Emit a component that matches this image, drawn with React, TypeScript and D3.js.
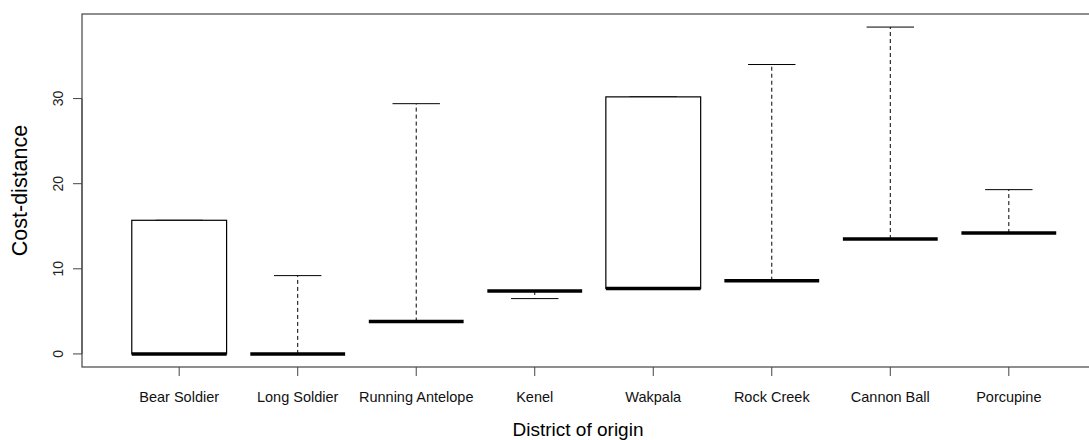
import { useEffect, useRef } from 'react';
import * as d3 from 'd3';

// boxplot stats, one entry per district
const districts = ['Bear Soldier', 'Long Soldier', 'Running Antelope', 'Kenel', 'Wakpala', 'Rock Creek', 'Cannon Ball', 'Porcupine'];
const lowWhisker = [0, 0, 3.8, 6.5, 7.7, 8.6, 13.5, 14.2];
const lowerHinge = [0, 0, 3.8, 7.4, 7.7, 8.6, 13.5, 14.2];
const medians = [0, 0, 3.8, 7.4, 7.7, 8.6, 13.5, 14.2];
const upperHinge = [15.7, 0, 3.8, 7.4, 30.2, 8.6, 13.5, 14.2];
const highWhisker = [15.7, 9.2, 29.4, 7.4, 30.2, 34.0, 38.4, 19.3];
const yTicks = [0, 10, 20, 30];

const App = () => {
  const svgRef = useRef<SVGSVGElement>(null);

  useEffect(() => {
    const width = 1089;
    const height = 440;
    const left = 82, top = 14, bottom = 367;

    const svg = d3.select(svgRef.current)
      .attr('width', width)
      .attr('height', height)
      .style('font-family', '"Liberation Sans", Arial, sans-serif');

    svg.selectAll('*').remove();

    const n = districts.length;
    // R style: pad the range by 4% on each side
    const xPad = 0.04 * n;
    const x = d3.scaleLinear()
      .domain([0.5 - xPad, n + 0.5 + xPad])
      .range([left, left + 1024]);

    const yMin = d3.min(lowWhisker) as number;
    const yMax = d3.max(highWhisker) as number;
    const yPad = 0.04 * (yMax - yMin);
    const y = d3.scaleLinear()
      .domain([yMin - yPad, yMax + yPad])
      .range([bottom, top]);

    const boxHalf = 0.4;
    const capHalf = 0.2;

    const stats = districts.map((name, i) => ({
      name,
      pos: i + 1,
      lo: lowWhisker[i],
      q1: lowerHinge[i],
      med: medians[i],
      q3: upperHinge[i],
      hi: highWhisker[i],
    }));

    const g = svg.append('g');

    // whiskers (dashed)
    g.selectAll('line.whisk-up')
      .data(stats.filter(d => d.hi > d.q3))
      .enter()
      .append('line')
      .attr('x1', d => x(d.pos)).attr('x2', d => x(d.pos))
      .attr('y1', d => y(d.q3)).attr('y2', d => y(d.hi))
      .attr('stroke', '#000').attr('stroke-dasharray', '4,3');

    g.selectAll('line.whisk-down')
      .data(stats.filter(d => d.lo < d.q1))
      .enter()
      .append('line')
      .attr('x1', d => x(d.pos)).attr('x2', d => x(d.pos))
      .attr('y1', d => y(d.q1)).attr('y2', d => y(d.lo))
      .attr('stroke', '#000').attr('stroke-dasharray', '4,3');

    // staples
    const caps = stats.flatMap(d => [{ pos: d.pos, v: d.hi }, { pos: d.pos, v: d.lo }]);
    g.selectAll('line.cap')
      .data(caps)
      .enter()
      .append('line')
      .attr('x1', d => x(d.pos - capHalf)).attr('x2', d => x(d.pos + capHalf))
      .attr('y1', d => y(d.v)).attr('y2', d => y(d.v))
      .attr('stroke', '#000').attr('stroke-width', 1);

    // boxes
    g.selectAll('rect.box')
      .data(stats)
      .enter()
      .append('rect')
      .attr('x', d => x(d.pos - boxHalf))
      .attr('width', d => x(d.pos + boxHalf) - x(d.pos - boxHalf))
      .attr('y', d => y(d.q3))
      .attr('height', d => y(d.q1) - y(d.q3))
      .attr('fill', '#fff')
      .attr('stroke', '#000')
      .attr('stroke-width', 1.2);

    // medians
    g.selectAll('line.med')
      .data(stats)
      .enter()
      .append('line')
      .attr('x1', d => x(d.pos - boxHalf)).attr('x2', d => x(d.pos + boxHalf))
      .attr('y1', d => y(d.med)).attr('y2', d => y(d.med))
      .attr('stroke', '#000').attr('stroke-width', 3.5);

    // frame
    svg.append('rect')
      .attr('x', left).attr('y', top)
      .attr('width', 1024).attr('height', bottom - top)
      .attr('fill', 'none').attr('stroke', '#444').attr('stroke-width', 1.2);

    // y axis
    const yAxis = svg.append('g');
    yAxis.append('line')
      .attr('x1', left).attr('x2', left)
      .attr('y1', y(yTicks[0])).attr('y2', y(yTicks[yTicks.length - 1]))
      .attr('stroke', '#444');
    yAxis.selectAll('line.tick')
      .data(yTicks)
      .enter()
      .append('line')
      .attr('x1', left - 9).attr('x2', left)
      .attr('y1', d => y(d)).attr('y2', d => y(d))
      .attr('stroke', '#444');
    yAxis.selectAll('text')
      .data(yTicks)
      .enter()
      .append('text')
      .attr('transform', d => `translate(63,${y(d)}) rotate(-90)`)
      .attr('text-anchor', 'middle')
      .style('font-size', '14px')
      .attr('fill', '#222')
      .text(d => d);

    // x axis
    const xAxis = svg.append('g');
    xAxis.selectAll('line.tick')
      .data(stats)
      .enter()
      .append('line')
      .attr('x1', d => x(d.pos)).attr('x2', d => x(d.pos))
      .attr('y1', bottom).attr('y2', bottom + 9)
      .attr('stroke', '#444');
    xAxis.selectAll('text')
      .data(stats)
      .enter()
      .append('text')
      .attr('x', d => x(d.pos))
      .attr('y', 402)
      .attr('text-anchor', 'middle')
      .style('font-size', '14.5px')
      .attr('fill', '#111')
      .text(d => d.name);

    // titles
    svg.append('text')
      .attr('x', 578).attr('y', 436)
      .attr('text-anchor', 'middle')
      .style('font-size', '19px')
      .attr('fill', '#000')
      .text('District of origin');

    svg.append('text')
      .attr('transform', `translate(27,${(top + bottom) / 2}) rotate(-90)`)
      .attr('text-anchor', 'middle')
      .style('font-size', '21.5px')
      .attr('fill', '#000')
      .text('Cost-distance');
  }, []);

  return (
    <div>
      <svg ref={svgRef} style={{ position: 'absolute', left: 0, top: 0 }}></svg>
    </div>
  );
};

export default App;
